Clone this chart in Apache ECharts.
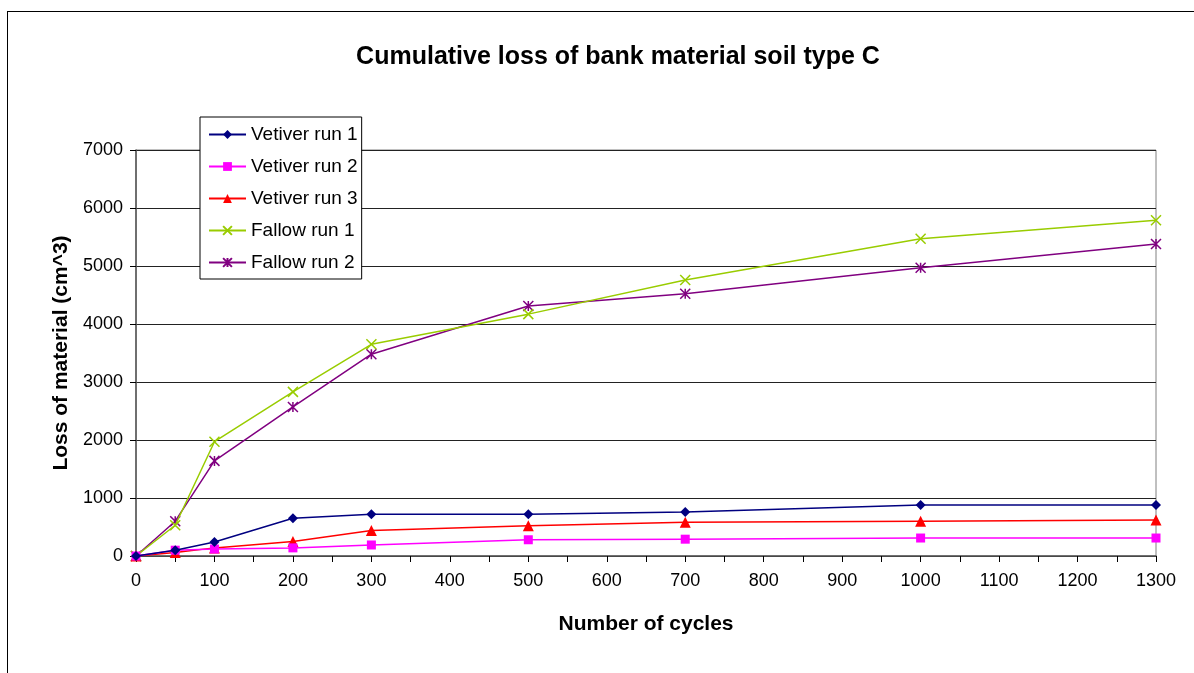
<!DOCTYPE html>
<html>
<head>
<meta charset="utf-8">
<script src="https://cdn.jsdelivr.net/npm/echarts@6/dist/echarts.min.js"></script>
<style>
  html, body { margin: 0; padding: 0; background: #fff; overflow: hidden; }
  #frame {
    position: absolute; left: 7px; top: 11px;
    width: 1300px; height: 800px;
    border: 1px solid #000; box-sizing: border-box;
  }
  #main { position: absolute; left: 0; top: 0; width: 1194px; height: 673px; }
</style>
</head>
<body>
<div id="frame"></div>
<div id="main"></div>
<script>
// cycles at which loss was measured
const cycles = [0, 50, 100, 200, 300, 500, 700, 1000, 1300]

// loss of material (cm^3)
const vetiver1 = [0, 100, 240, 650, 720, 720, 760, 880, 880]
const vetiver2 = [0, 100, 120, 140, 190, 280, 290, 310, 310]
const vetiver3 = [0, 60, 140, 250, 440, 520, 580, 600, 620]
const fallow1 = [0, 530, 1970, 2830, 3650, 4170, 4760, 5470, 5790]
const fallow2 = [0, 600, 1640, 2570, 3480, 4310, 4520, 4970, 5380]

const seriesNames = ['Vetiver run 1', 'Vetiver run 2', 'Vetiver run 3', 'Fallow run 1', 'Fallow run 2']
const seriesData = [vetiver1, vetiver2, vetiver3, fallow1, fallow2]
const colors = ['#000080', '#ff00ff', '#ff0000', '#99cc00', '#800080']

const crossPath = 'path://M0,0L10,10M10,0L0,10'
const starPath = 'path://M0,0L10,10M10,0L0,10M5,0L5,10'
const symbols = ['diamond', 'rect', 'triangle', crossPath, starPath]
const symbolSizes = [10, 9, 11, 10, 10]

const font = 'Liberation Sans, Arial, sans-serif'

const chart = echarts.init(document.getElementById('main'))

const series = seriesNames.map((name, i) => {
  const isPath = i >= 3
  return {
    name: name,
    type: 'line',
    data: cycles.map((c, j) => [c, seriesData[i][j]]),
    symbol: symbols[i],
    symbolSize: symbolSizes[i],
    showAllSymbol: true,
    lineStyle: { color: colors[i], width: 1.5 },
    itemStyle: isPath
      ? { color: 'transparent', borderColor: colors[i], borderWidth: 1.5 }
      : { color: colors[i], borderWidth: 0 },
    emphasis: { disabled: true },
    animation: false,
    z: 10 - i
  }
})

chart.setOption({
  animation: false,
  title: {
    text: 'Cumulative loss of bank material soil type C',
    left: 613,
    top: 40,
    textAlign: 'center',
    textStyle: { fontFamily: font, fontSize: 25, fontWeight: 'bold', color: '#000' }
  },
  legend: {
    orient: 'vertical',
    left: 200,
    top: 117,
    padding: [8, 4, 7, 8],
    itemGap: 13,
    itemWidth: 37,
    itemHeight: 11,
    backgroundColor: '#fff',
    borderColor: '#000',
    borderWidth: 1,
    data: seriesNames,
    textStyle: { fontFamily: font, fontSize: 19, color: '#000', padding: [0, 0, 0, 0] }
  },
  grid: {
    left: 136,
    top: 150,
    width: 1020,
    height: 406,
    show: true,
    borderColor: '#808080',
    borderWidth: 1
  },
  xAxis: {
    type: 'value',
    min: 0,
    max: 1300,
    interval: 50,
    name: 'Number of cycles',
    nameLocation: 'middle',
    nameGap: 58,
    nameTextStyle: { fontFamily: font, fontSize: 21, fontWeight: 'bold', color: '#000' },
    axisLine: { lineStyle: { color: '#555', width: 1.5 } },
    axisTick: { show: true, length: 6, lineStyle: { color: '#000' } },
    splitLine: { show: false },
    axisLabel: {
      fontFamily: font, fontSize: 18, color: '#000', margin: 16,
      formatter: v => (v % 100 === 0 ? String(v) : '')
    }
  },
  yAxis: {
    type: 'value',
    min: 0,
    max: 7000,
    interval: 1000,
    name: 'Loss of material (cm^3)',
    nameLocation: 'middle',
    nameGap: 63,
    nameTextStyle: { fontFamily: font, fontSize: 21, fontWeight: 'bold', color: '#000' },
    axisLine: { show: true, lineStyle: { color: '#555', width: 1.5 } },
    axisTick: { show: true, length: 6, lineStyle: { color: '#000' } },
    splitLine: { show: true, lineStyle: { color: '#222', width: 1 } },
    axisLabel: {
      fontFamily: font, fontSize: 18, color: '#000', margin: 13,
      formatter: v => String(v)
    }
  },
  series: series
})
</script>
</body>
</html>
